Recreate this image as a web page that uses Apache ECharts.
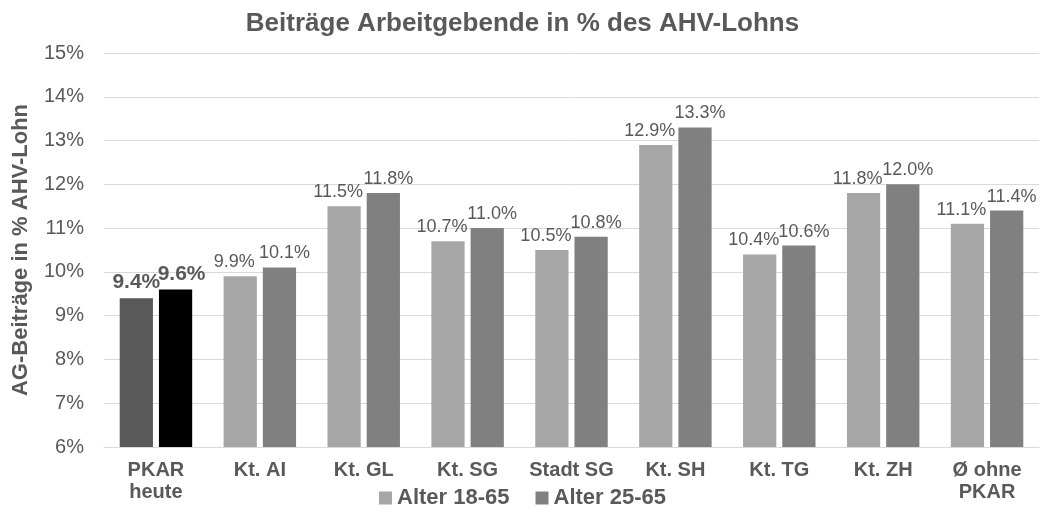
<!DOCTYPE html>
<html>
<head>
<meta charset="utf-8">
<script src="https://cdn.jsdelivr.net/npm/echarts@6/dist/echarts.min.js"></script>
<style>
html, body { margin: 0; padding: 0; background: #fff; }
#chart { width: 1045px; height: 530px; }
</style>
</head>
<body>
<div id="chart"></div>
<script>
var categories = ['PKAR\nheute', 'Kt. AI', 'Kt. GL', 'Kt. SG', 'Stadt SG', 'Kt. SH', 'Kt. TG', 'Kt. ZH', 'Ø ohne\nPKAR'];
var alter1865 = [9.4, 9.9, 11.5, 10.7, 10.5, 12.9, 10.4, 11.8, 11.1];
var alter2565 = [9.6, 10.1, 11.8, 11.0, 10.8, 13.3, 10.6, 12.0, 11.4];

var grau = '#595959';
var fnt = 'Liberation Sans, Arial, sans-serif';

// erste Gruppe (PKAR) wird dunkler und fett hervorgehoben
function mkData(arr, pkarColor, pkarOffset) {
    return arr.map(function (v, i) {
        if (i === 0) {
            return {
                value: v,
                itemStyle: { color: pkarColor },
                label: { fontWeight: 'bold', fontSize: 21, offset: pkarOffset }
            };
        }
        return v;
    });
}

var myChart = echarts.init(document.getElementById('chart'));
var option = {
    animation: false,
    title: {
        text: 'Beiträge Arbeitgebende in % des AHV-Lohns',
        left: 'center',
        top: 6,
        textStyle: { color: grau, fontSize: 26, fontWeight: 'bold', fontFamily: fnt }
    },
    legend: {
        top: 482,
        left: 'center',
        itemWidth: 13,
        itemHeight: 13,
        itemGap: 26,
        icon: 'rect',
        textStyle: { color: grau, fontSize: 22, fontWeight: 'bold', fontFamily: fnt },
        data: ['Alter 18-65', 'Alter 25-65']
    },
    grid: { left: 104, right: 6, top: 53, bottom: 83, outerBoundsMode: 'none' },
    xAxis: {
        type: 'category',
        data: categories,
        axisTick: { show: false },
        axisLine: { lineStyle: { color: '#d9d9d9' } },
        axisLabel: { interval: 0, color: grau, fontSize: 20, fontWeight: 'bold', fontFamily: fnt, margin: 12, lineHeight: 22 }
    },
    yAxis: {
        type: 'value',
        min: 6,
        max: 15,
        interval: 1,
        name: 'AG-Beiträge in % AHV-Lohn',
        nameLocation: 'middle',
        nameGap: 72,
        nameTextStyle: { color: grau, fontSize: 22, fontWeight: 'bold', fontFamily: fnt },
        axisLabel: {
            color: grau, fontSize: 20, fontFamily: fnt, margin: 20,
            formatter: function (v) { return v + '%'; }
        },
        splitLine: { lineStyle: { color: '#d9d9d9' } }
    },
    series: [
        {
            name: 'Alter 18-65',
            type: 'bar',
            barWidth: '32%',
            barGap: '18%',
            itemStyle: { color: '#a6a6a6' },
            label: {
                show: true, position: 'top', distance: 5, offset: [-6, 0],
                color: grau, fontSize: 18, fontFamily: fnt,
                formatter: function (p) { return p.value.toFixed(1) + '%'; }
            },
            data: mkData(alter1865, '#595959', [0, 0])
        },
        {
            name: 'Alter 25-65',
            type: 'bar',
            barWidth: '32%',
            barGap: '18%',
            itemStyle: { color: '#808080' },
            label: {
                show: true, position: 'top', distance: 5, offset: [5, 0],
                color: grau, fontSize: 18, fontFamily: fnt,
                formatter: function (p) { return p.value.toFixed(1) + '%'; }
            },
            data: mkData(alter2565, '#000000', [6, 0])
        }
    ]
};
myChart.setOption(option);
</script>
</body>
</html>
